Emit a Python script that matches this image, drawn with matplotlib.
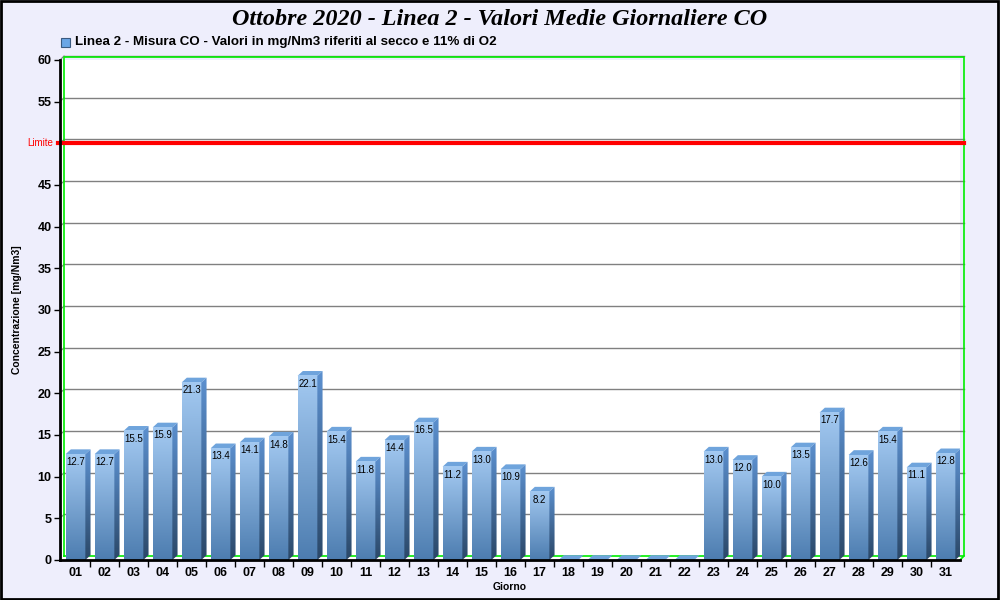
import numpy as np
import matplotlib.pyplot as plt
from matplotlib.colors import LinearSegmentedColormap
from matplotlib.patches import Polygon, Rectangle

# dati: valori medi giornalieri CO, ottobre 2020
giorni = ['%02d' % d for d in range(1, 32)]
valori = [12.7, 12.7, 15.5, 15.9, 21.3, 13.4, 14.1, 14.8, 22.1, 15.4,
          11.8, 14.4, 16.5, 11.2, 13.0, 10.9, 8.2, 0, 0, 0,
          0, 0, 13.0, 12.0, 10.0, 13.5, 17.7, 12.6, 15.4, 11.1, 12.8]
limite = 50
y_ticks = [0, 5, 10, 15, 20, 25, 30, 35, 40, 45, 55, 60]

titolo = 'Ottobre 2020 - Linea 2 - Valori Medie Giornaliere CO'
legenda = 'Linea 2 - Misura CO - Valori in mg/Nm3 riferiti al secco e 11% di O2'

fig = plt.figure(figsize=(10, 6), dpi=100)
fig.patch.set_facecolor('#eeeefc')
fig.patches.append(Rectangle((0.001, 0.002), 0.997, 0.996, transform=fig.transFigure,
                             fill=False, edgecolor='black', linewidth=2))

ax = fig.add_axes([0.06, 0.0667, 0.90, 0.8333])
ax.set_facecolor('white')
x0, x1 = 0.466, 31.5
ax.set_xlim(x0, x1)
ax.set_ylim(0, 60)

# profondita' 3D (circa 4-5 px)
dx = 4 / 29.0
dy = 4 / 8.333

# parete di fondo: griglia e cornice verde
for t in range(5, 61, 5):
    ax.plot([x0 + dx, x1 + dx], [t + dy, t + dy], color='#808080', lw=1, zorder=1, clip_on=False)
    ax.plot([x0, x0 + dx], [t, t + dy], color='#808080', lw=0.8, zorder=1, clip_on=False)
ax.plot([x0 + dx, x1 + dx, x1 + dx, x0 + dx, x0 + dx],
        [dy, dy, 60 + dy * 0.7, 60 + dy * 0.7, dy], color='#00ee00', lw=1.2, zorder=1, clip_on=False)
ax.plot([x1, x1 + dx], [0, dy], color='#00ee00', lw=1.2, zorder=1, clip_on=False)

cm_front = LinearSegmentedColormap.from_list('f', ['#4d7db0', '#a3c9f1'])
cm_side = LinearSegmentedColormap.from_list('s', ['#2b4868', '#5c90cf'])
grad = np.linspace(0, 1, 100).reshape(-1, 1)
w = 0.68

for i, v in enumerate(valori):
    x = i + 1
    xl, xr = x - w / 2, x + w / 2
    # faccia superiore
    top = Polygon([(xl, v), (xr, v), (xr + dx * 1.3, v + dy * 1.2), (xl + dx * 1.3, v + dy * 1.2)],
                  closed=True, facecolor='#6fa4dc', edgecolor='none', zorder=3)
    ax.add_patch(top)
    if v <= 0:
        continue
    # faccia frontale con sfumatura
    ax.imshow(grad, extent=[xl, xr, 0, v], origin='lower', cmap=cm_front,
              aspect='auto', zorder=3, interpolation='bilinear')
    # faccia laterale
    side = Polygon([(xr, 0), (xr + dx * 1.3, dy * 1.2), (xr + dx * 1.3, v + dy * 1.2), (xr, v)],
                   closed=True, facecolor='none', edgecolor='none')
    ax.add_patch(side)
    im = ax.imshow(grad, extent=[xr, xr + dx * 1.3, 0, v + dy * 1.2], origin='lower',
                   cmap=cm_side, aspect='auto', zorder=3, interpolation='bilinear')
    im.set_clip_path(side)
    ax.text(x, v - 0.35, '%.1f' % v, ha='center', va='top', fontsize=7,
            family='Liberation Sans', color='black', zorder=4)

ax.set_xlim(x0, x1)
ax.set_ylim(0, 60)

# linea limite
ax.plot([x0 - 0.08, x1 + dx], [limite, limite], color='#ff0000', lw=3, zorder=5, clip_on=False)
ax.annotate('Limite', xy=(0, limite), xycoords=('axes fraction', 'data'),
            xytext=(-5, 0), textcoords='offset points', color='#ff0000', fontsize=7,
            ha='right', va='center', family='Liberation Sans')

# assi
for s in ['top', 'right']:
    ax.spines[s].set_visible(False)
for s in ['left', 'bottom']:
    ax.spines[s].set_linewidth(2)
    ax.spines[s].set_zorder(6)
ax.set_yticks(y_ticks)
ax.set_yticklabels([str(t) for t in y_ticks], fontsize=9, fontweight='bold', family='Liberation Sans')
ax.set_xticks(range(1, 32))
ax.set_xticklabels(giorni, fontsize=9, fontweight='bold', family='Liberation Sans')
ax.set_xticks(np.arange(1.5, 31, 1), minor=True)
ax.tick_params(axis='x', which='major', length=0, pad=5)
ax.tick_params(axis='x', which='minor', length=5, width=1)
ax.tick_params(axis='y', length=4, width=1, pad=2)
ax.set_xlabel('Giorno', fontsize=7.5, fontweight='bold', family='Liberation Sans', labelpad=2)
ax.set_ylabel('Concentrazione [mg/Nm3]', fontsize=7.5, fontweight='bold', family='Liberation Sans', labelpad=11)

fig.text(0.5, 0.968, titolo, ha='center', va='center', fontsize=17.4, fontweight='bold',
         style='italic', family='Liberation Serif')
fig.patches.append(Rectangle((0.061, 0.922), 0.009, 0.015, transform=fig.transFigure,
                             facecolor='#6aa6e6', edgecolor='#3a5a80', linewidth=0.8))
fig.text(0.075, 0.93, legenda, ha='left', va='center', fontsize=9.6, fontweight='bold',
         family='Liberation Sans')

fig.savefig('out.png', dpi=100, facecolor=fig.get_facecolor())
